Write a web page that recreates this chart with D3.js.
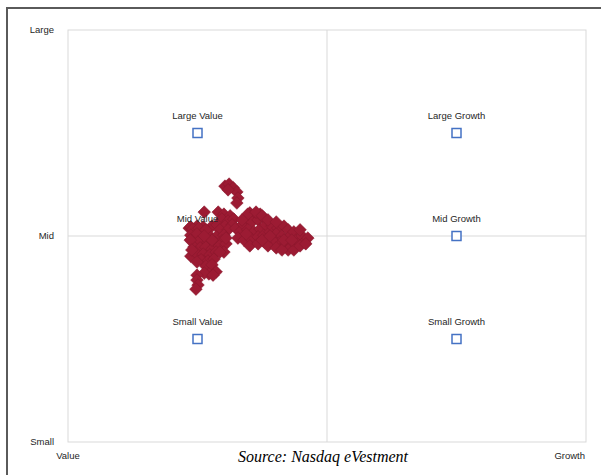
<!DOCTYPE html>
<html>
<head>
<meta charset="utf-8">
<script src="https://cdn.jsdelivr.net/npm/d3@7/dist/d3.min.js"></script>
<style>
  html, body { margin: 0; padding: 0; background: #fff; }
  svg { display: block; }
</style>
</head>
<body>
<svg id="chart" width="601" height="475"></svg>
<script>
// Style-box reference categories
const boxNames = ["Large Value", "Large Growth", "Mid Value", "Mid Growth", "Small Value", "Small Growth"];
const boxX = [25, 75, 25, 75, 25, 75];
const boxY = [75, 75, 50, 50, 25, 25];

// Axis tick labels
const yTickLabels = ["Small", "Mid", "Large"];
const yTickValues = [0, 50, 100];
const xTickLabels = ["Value", "Growth"];
const xTickValues = [0, 100];

// Rolling style points (value/growth score, size score)
const styleX = [
  30.3, 31.1, 31.9, 32.6, 32.8, 32.6, 30.9,
  26.3, 29.0, 30.1, 31.3, 23.4, 27.8, 29.7, 30.9, 32.0, 23.7,
  23.7, 24.9, 26.1, 28.8, 30.3, 31.7, 24.1, 25.3, 29.3, 30.9,
  23.7, 24.9, 26.1, 27.4, 28.6, 30.1, 23.9, 25.1, 27.0, 28.4, 29.7,
  24.3, 25.5, 26.6, 27.8, 29.2, 30.5, 24.7, 26.1, 27.4, 28.6, 30.1,
  25.7, 27.0, 28.2, 26.6, 27.8, 28.6, 27.2, 26.3, 28.0,
  24.9, 24.9, 25.1, 24.7,
  23.6, 23.9, 26.6, 27.8, 29.3, 30.5, 26.3, 24.9,
  32.4, 33.2, 32.8, 33.8, 34.4, 35.1, 36.1, 37.1, 35.5, 36.7, 37.8,
  34.7, 35.9, 37.1, 38.2, 34.0, 35.3, 36.7, 37.8, 39.0, 39.4, 40.5,
  41.7, 40.2, 41.3, 42.5, 42.9, 43.6, 44.0, 40.9, 42.1, 43.2, 44.4,
  45.2, 45.6, 46.3, 44.8, 39.4, 38.0, 42.5,
  34.7, 36.3, 37.5, 38.6, 40.2, 33.6,
  35.1, 36.7, 38.6, 40.2, 41.3, 43.6, 44.8, 45.9,
  34.4, 37.5, 39.0, 41.7, 43.2
];
const styleY = [
  62.1, 62.6, 61.7, 60.7, 59.2, 58.0, 61.2,
  55.8, 55.8, 55.3, 54.9, 51.9, 52.4, 54.1, 53.6, 54.1, 45.1,
  52.2, 52.4, 52.2, 52.7, 52.4, 52.7, 51.7, 51.9, 51.5, 51.5,
  50.2, 50.5, 49.0, 50.0, 49.8, 50.2, 48.8, 48.5, 48.5, 48.3, 48.8,
  47.3, 47.1, 47.3, 46.8, 47.6, 48.1, 45.9, 45.6, 45.4, 46.1, 46.1,
  44.2, 43.9, 44.4, 42.7, 43.0, 41.3, 40.8, 41.0, 40.5,
  40.5, 39.3, 38.1, 37.1,
  49.0, 46.6, 51.5, 49.0, 46.1, 49.5, 50.0, 43.7,
  51.9, 51.0, 49.5, 52.9, 54.6, 55.6, 55.1, 55.3, 53.4, 53.9, 54.4,
  51.5, 51.0, 51.7, 52.7, 49.0, 49.3, 49.8, 50.2, 51.0, 52.4, 51.9,
  52.4, 50.5, 50.0, 51.5, 50.0, 51.0, 49.0, 48.5, 48.1, 47.6, 48.1,
  50.0, 48.5, 49.5, 51.5, 49.0, 48.5, 46.6,
  55.3, 55.8, 54.9, 53.9, 53.4, 53.9,
  47.6, 48.1, 47.6, 47.1, 46.6, 46.6, 47.6, 48.1,
  50.5, 49.0, 50.0, 49.0, 49.0
];

const sourceText = "Source:  Nasdaq eVestment";

const svg = d3.select("#chart");
const plot = { left: 68, right: 586, top: 30, bottom: 442 };

const x = d3.scaleLinear().domain([0, 100]).range([plot.left, plot.right]);
const y = d3.scaleLinear().domain([0, 100]).range([plot.bottom, plot.top]);

// outer frame
svg.append("rect")
  .attr("x", 7).attr("y", 8)
  .attr("width", 700).attr("height", 600)
  .attr("fill", "none")
  .attr("stroke", "#5a5a5a")
  .attr("stroke-width", 2);

// plot border
svg.append("rect")
  .attr("x", x(0)).attr("y", y(100))
  .attr("width", x(100) - x(0)).attr("height", y(0) - y(100))
  .attr("fill", "none")
  .attr("stroke", "#d9d9d9")
  .attr("stroke-width", 1);

// mid lines
svg.append("line")
  .attr("x1", x(50)).attr("x2", x(50))
  .attr("y1", y(0)).attr("y2", y(100))
  .attr("stroke", "#d9d9d9").attr("stroke-width", 1);
svg.append("line")
  .attr("x1", x(0)).attr("x2", x(100))
  .attr("y1", y(50)).attr("y2", y(50))
  .attr("stroke", "#d9d9d9").attr("stroke-width", 1);

const labelFont = "'Liberation Sans', Arial, sans-serif";

// y tick labels
svg.append("g").selectAll("text")
  .data(yTickValues)
  .join("text")
  .attr("x", 54)
  .attr("y", d => y(d))
  .attr("dy", "0.35em")
  .attr("text-anchor", "end")
  .attr("font-family", labelFont)
  .attr("font-size", 9.5)
  .attr("fill", "#262626")
  .text((d, i) => yTickLabels[i]);

// x tick labels
svg.append("g").selectAll("text")
  .data(xTickValues)
  .join("text")
  .attr("x", (d, i) => i === 0 ? x(d) : x(d) - 1)
  .attr("y", 456)
  .attr("dy", "0.35em")
  .attr("text-anchor", (d, i) => i === 0 ? "middle" : "end")
  .attr("font-family", labelFont)
  .attr("font-size", 9.5)
  .attr("fill", "#262626")
  .text((d, i) => xTickLabels[i]);

// reference squares
const boxes = boxNames.map((n, i) => ({ name: n, x: boxX[i], y: boxY[i] }));
svg.append("g").selectAll("rect")
  .data(boxes)
  .join("rect")
  .attr("x", d => x(d.x) - 4.5)
  .attr("y", d => y(d.y) - 4.5)
  .attr("width", 9).attr("height", 9)
  .attr("fill", "#fff")
  .attr("stroke", "#4472c4")
  .attr("stroke-width", 1.5);

// style points (diamonds)
const pts = styleX.map((v, i) => ({ x: v, y: styleY[i] }));
const diamond = d3.symbol().type(d3.symbolSquare).size(80);
svg.append("g").selectAll("path")
  .data(pts)
  .join("path")
  .attr("d", diamond)
  .attr("transform", d => `translate(${x(d.x)},${y(d.y)}) rotate(45)`)
  .attr("fill", "#9c1b33")
  .attr("stroke", "#88162b")
  .attr("stroke-width", 0.5);

// box labels
svg.append("g").selectAll("text")
  .data(boxes)
  .join("text")
  .attr("x", d => x(d.x))
  .attr("y", d => y(d.y) - 17)
  .attr("dy", "0.35em")
  .attr("text-anchor", "middle")
  .attr("font-family", labelFont)
  .attr("font-size", 9.5)
  .attr("fill", "#262626")
  .text(d => d.name);

// source
svg.append("text")
  .attr("x", 323)
  .attr("y", 456)
  .attr("dy", "0.35em")
  .attr("text-anchor", "middle")
  .attr("font-family", "'Liberation Serif', 'DejaVu Serif', serif")
  .attr("font-style", "italic")
  .attr("font-size", 16)
  .attr("fill", "#000")
  .text(sourceText);
</script>
</body>
</html>
